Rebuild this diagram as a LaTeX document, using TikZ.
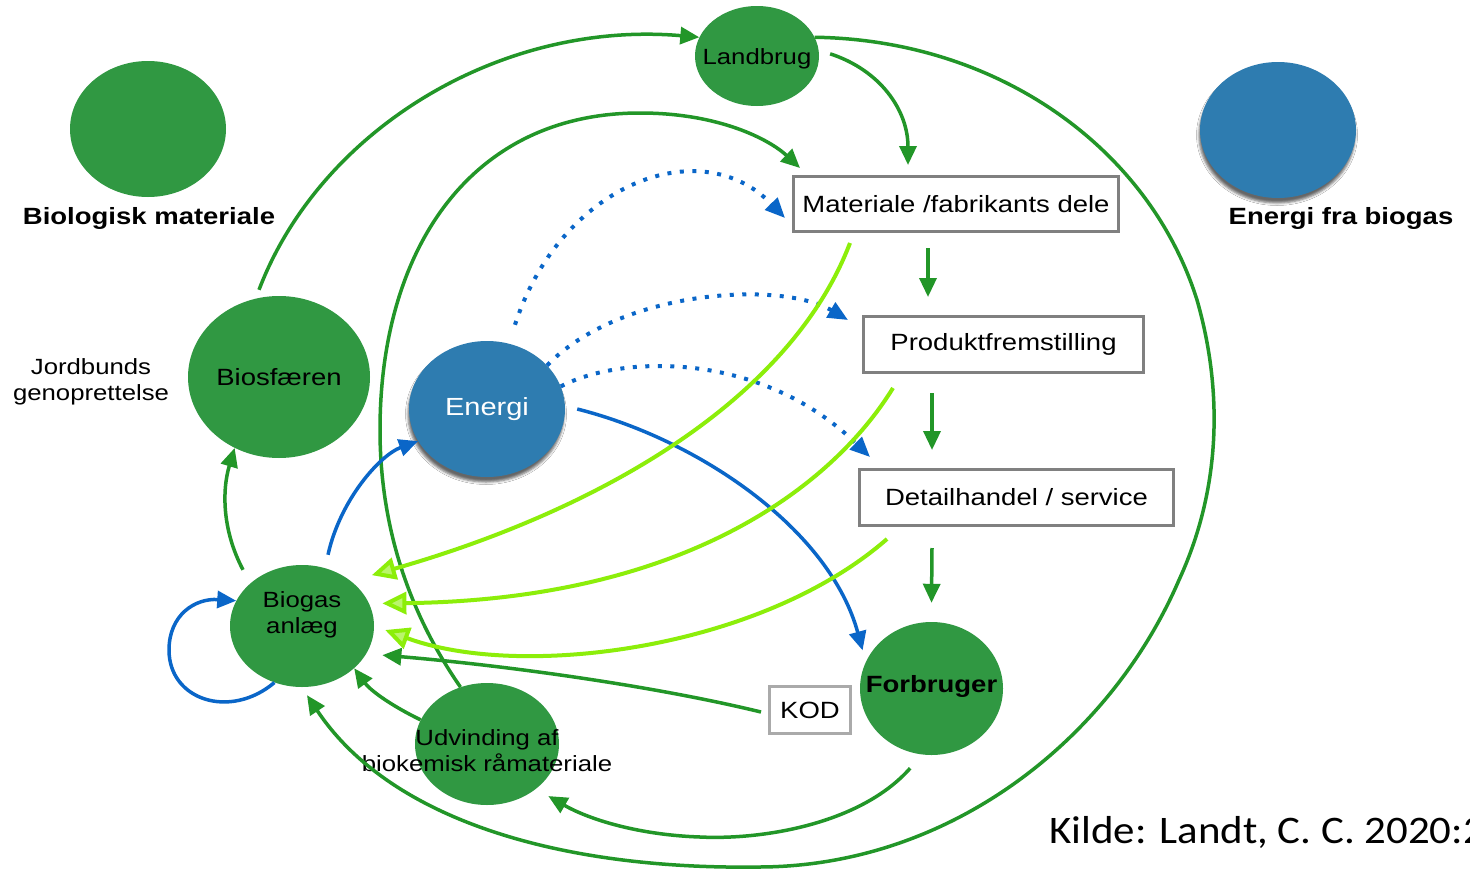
\documentclass[tikz,border=0pt]{standalone}
\usepackage{fontspec}
\setmainfont{Liberation Sans}[FakeStretch=1.17]
\newfontfamily\kildefont{Carlito}[FakeStretch=1.1]
\usetikzlibrary{shapes.geometric,arrows.meta,calc,shadows.blur}
\definecolor{gfill}{RGB}{48,152,66}
\definecolor{gline}{RGB}{34,150,40}
\definecolor{lgreen}{RGB}{140,238,10}
\definecolor{bfill}{RGB}{46,124,176}
\definecolor{bline}{RGB}{10,102,200}
\definecolor{boxgray}{RGB}{128,128,128}
\definecolor{kodgray}{RGB}{170,170,170}
\newcommand\txtBox{\fontsize{23.5}{28}\selectfont}
\newcommand\txtNode{\fontsize{22}{26}\selectfont}
\newcommand\txtEn{\fontsize{24.8}{28}\selectfont}
\begin{document}
\begin{tikzpicture}[x=1pt,y=-1pt,
  gblob/.style={ellipse, fill=gfill, inner sep=0pt},
  bblob/.style={ellipse, fill=bfill, inner sep=0pt, blur shadow={shadow xshift=-1pt, shadow yshift=-5pt, shadow blur radius=2.5pt, shadow opacity=60}},
  pbox/.style={rectangle, draw=boxgray, line width=3pt, inner sep=0pt, font=\txtBox},
  garr/.style={draw=gline, line width=3.5pt, -{Triangle[length=19pt,width=17pt]}},
  barr/.style={draw=bline, line width=3.5pt, -{Triangle[length=19pt,width=17pt]}},
  dotarr/.style={draw=bline, line width=4pt, dash pattern=on 4pt off 8.5pt, -{Triangle[length=20pt,width=17pt]}},
  larr/.style={draw=lgreen, line width=4pt, -{Triangle[length=24pt,width=22pt,fill=lgreen!60]}}
]
\fill[white] (0,0) rectangle (1470,870);
\useasboundingbox (0,0) rectangle (1470,870);

% legend
\node[gblob, minimum width=156pt, minimum height=136pt] (bm) at (148,129) {};
\node[font={\bfseries\txtBox}] (bmlbl) at (149,218) {Biologisk materiale};
\node[bblob, minimum width=156pt, minimum height=136pt] (efb) at (1278,130) {};
\node[font={\bfseries\txtBox}] (efblbl) at (1341,218) {Energi fra biogas};

% nodes
\node[gblob, minimum width=124pt, minimum height=100pt, label={[font=\txtNode, yshift=-3pt]center:Landbrug}] (land) at (757,56) {};
\node[pbox, minimum width=325pt, minimum height=55pt] (mat) at (956,204) {Materiale /fabrikants dele};
\node[pbox, minimum width=280pt, minimum height=56pt] (prod) at (1003.5,344.5) {Produktfremstilling};
\node[pbox, minimum width=314pt, minimum height=56pt] (det) at (1016.5,497.5) {Detailhandel / service};
\node[pbox, draw=kodgray, minimum width=81pt, minimum height=47pt] (kod) at (810,710) {KOD};
\node[gblob, minimum width=182pt, minimum height=162pt, label={[font=\txtBox]center:Biosfæren}] (bio) at (279,377) {};
\node[bblob, minimum width=156pt, minimum height=136pt, label={[font=\txtEn, text=white]center:Energi}] (en) at (487,409) {};
\node[gblob, minimum width=144pt, minimum height=122pt, label={[font=\txtNode, align=center, yshift=11pt]center:Biogas\\anlæg}] (bg) at (302,626) {};
\node[gblob, minimum width=144pt, minimum height=122pt, label={[font=\txtNode, align=center, yshift=-7pt]center:Udvinding af\\biokemisk råmateriale}] (udv) at (487,744) {};
\node[gblob, minimum width=143pt, minimum height=133pt, label={[font={\bfseries\txtBox}, yshift=2pt]center:Forbruger}] (forb) at (931.5,688.5) {};
\node[font=\txtNode, align=center] (jord) at (91,382) {Jordbunds\\genoprettelse};
\node[font={\kildefont\fontsize{39}{44}\selectfont}, anchor=base west, inner sep=0pt] (kilde) at (1049,843) {Kilde: Landt, C. C. 2020:2};

% green connectors
\draw[garr] ($(bio.north)+(-20,-6)$) .. controls (320,130) and (500,20) .. (land.162);
\draw[garr] (land.18) .. controls (1000,40) and (1150,150) .. (1197,300)
  .. controls (1220,380) and (1225,480) .. (1179,580)
  .. controls (1110,740) and (950,866) .. (760,867)
  .. controls (560,870) and (390,820) .. ($(bg.south)+(5,8)$);
\draw[garr] ($(land.2)+(11,0)$) .. controls (880,70) and (908,110) .. ($(mat.north)+(-48,-10)$);
\draw[garr] (udv.115) .. controls (400,600) and (380,510) .. (380,430)
  .. controls (380,250) and (470,113) .. (640,113)
  .. controls (720,113) and (770,140) .. ($(mat.north west)+(8,-7)$);
\draw[garr] ($(mat.south)+(-28,15)$) -- ($(prod.north)+(-75.5,-18)$);
\draw[garr] ($(prod.south)+(-71.5,19)$) -- ($(det.north)+(-84.5,-18)$);
\draw[garr] ($(det.south)+(-84.5,21)$) -- ($(forb.north)+(0,-19)$);
\draw[garr] ($(bg.north)+(-59,5)$) .. controls (222,530) and (222,490) .. (bio.238);
\draw[garr] ($(kod.west)+(-7,2)$) .. controls (650,685) and (500,665) .. ($(bg.340)+(14,5)$);
\draw[garr] (udv.160) .. controls (390,705) and (370,690) .. (bg.321);
\draw[garr] ($(forb.255)+(-4,15)$) .. controls (860,825) and (760,840) .. (700,837)
  .. controls (640,835) and (590,820) .. ($(udv.320)+(10,9)$);

% blue connectors
\draw[barr] ($(bg.north)+(26,-10)$) .. controls (340,500) and (380,455) .. (en.205);
\draw[barr] (bg.244) .. controls (230,720) and (169,700) .. (169,650)
  .. controls (169,615) and (195,598) .. (bg.159);
\draw[barr] ($(en.east)+(12,0)$) .. controls (700,440) and (830,530) .. ($(forb.150)+(-8,-3)$);
\draw[dotarr] ($(en.north)+(28,-16)$) .. controls (560,185) and (700,130) .. ($(mat.west)+(-7,14)$);
\draw[dotarr] (en.36) .. controls (620,290) and (780,280) .. ($(prod.north west)+(-14,5)$);
\draw[dotarr] (en.17) .. controls (620,355) and (760,350) .. ($(det.north west)+(12,-11)$);

% light green connectors
\draw[larr] ($(mat.south west)+(58,10)$) .. controls (790,400) and (600,510) .. ($(bg.36)+(15,-11)$);
\draw[larr] ($(prod.south west)+(31,14)$) .. controls (830,490) and (680,600) .. ($(bg.16)+(12,-3)$);
\draw[larr] ($(det.south west)+(29,12)$) .. controls (760,650) and (520,680) .. ($(bg.east)+(11,4)$);
\end{tikzpicture}
\end{document}
